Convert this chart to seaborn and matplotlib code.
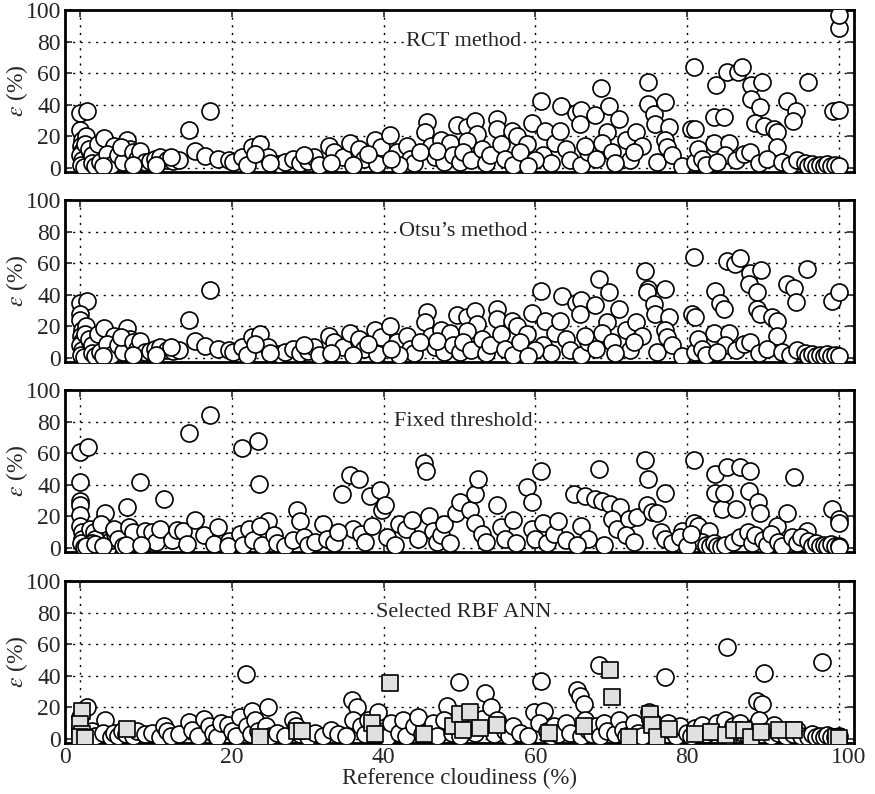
import pandas as pd
import numpy as np
import matplotlib
matplotlib.use("Agg")
import matplotlib.pyplot as plt
import matplotlib.transforms as mtransforms
import seaborn as sns

# (reference cloudiness %, error %)
rct_points = [
    (0.0, 35), (0.9, 36), (0.0, 24), (0.2, 18), (0.1, 14), (0.3, 11), (0.0, 8), (0.2, 5), (0.1, 2), (0.5, 0.5),
    (0.8, 20), (0.7, 15), (1.3, 10), (1.8, 5.7), (1.2, 12), (1.5, 8), (1.6, 3), (2.0, 1.5), (2.3, 15), (2.6, 4),
    (3.1, 19), (4.4, 14), (3.5, 9), (4.0, 2), (5.0, 8), (5.7, 3.6), (6.2, 18), (6.6, 12), (5.4, 13), (7.0, 10),
    (7.5, 6), (7.9, 11), (8.5, 4), (9.2, 4.6), (9.8, 6), (10.5, 6.7), (11.5, 5), (12.3, 4.6), (13.0, 5), (14.3, 24),
    (15.2, 11), (16.5, 7.8), (17.1, 36), (18.2, 5.7), (19.6, 5.3), (20.2, 4), (12.0, 7), (7.0, 2), (3.0, 1), (10.0, 2),
    (21.3, 6.7), (22.6, 13), (23.7, 15), (24.8, 6.7), (26.2, 2.5), (27.0, 4), (28.1, 5.7), (29.0, 3), (30.0, 4.5), (30.8, 6.7),
    (31.5, 2), (32.8, 14), (33.4, 10), (34.7, 6.7), (35.6, 16), (36.7, 12), (37.4, 5.7), (38.9, 18), (39.6, 13), (40.9, 21),
    (39.1, 2.5), (41.8, 10), (43.1, 14), (43.5, 5.7), (45.7, 29), (45.5, 22.5), (46.2, 14), (47.5, 18), (48.8, 16), (49.7, 27),
    (44.0, 3), (46.8, 7), (48.0, 4), (42.0, 2), (36.0, 2), (33.0, 3), (25.0, 3), (22.0, 2), (23.0, 9), (29.5, 8),
    (38.0, 9), (41.0, 6), (44.8, 10), (47.0, 11), (49.2, 8), (50.0, 4),
    (51.0, 26), (52.1, 30), (54.9, 31), (54.9, 25), (52.3, 21.5), (51.0, 17), (50.5, 10), (51.5, 5), (53.0, 12), (53.5, 3),
    (54.0, 8), (55.5, 15), (56.9, 23.6), (57.6, 20.4), (58.9, 15), (56.0, 6), (57.0, 2), (58.0, 10), (59.6, 28.5), (60.7, 42.5),
    (61.3, 23.6), (62.6, 16), (63.3, 23.6), (63.4, 39.4), (64.0, 12), (65.3, 35), (66.0, 36.7), (65.9, 28), (64.5, 5), (66.0, 2),
    (61.0, 8), (62.0, 3), (67.0, 10), (67.9, 33.5), (68.6, 50.4), (69.7, 39.4), (69.5, 22.5), (68.8, 16), (70.1, 10), (71.0, 31),
    (71.9, 18), (72.5, 5), (73.2, 22.5), (74.1, 14), (74.8, 54.6), (74.9, 40.4), (75.6, 34), (75.8, 28), (76.0, 3.6), (77.1, 41.5),
    (77.6, 25.7), (77.1, 18), (77.4, 13), (78.0, 8), (79.3, 1.5), (73.0, 10), (70.5, 3), (68.0, 6), (66.5, 14), (60.0, 5),
    (59.0, 1.5),
    (80.9, 64), (80.5, 25), (81.1, 24.6), (81.1, 3.6), (81.5, 12), (82.0, 6), (82.5, 2), (83.5, 15.8), (83.8, 52.5), (83.5, 32.5),
    (84.8, 32.5), (85.3, 61), (85.5, 16), (85.0, 8), (84.0, 4), (86.7, 61), (87.2, 64), (86.5, 5), (87.5, 9), (88.4, 52.5),
    (89.9, 54.5), (88.4, 43.7), (89.6, 38.5), (89.0, 28.8), (90.1, 26.7), (91.4, 25), (91.8, 22.5), (91.9, 13.5), (88.3, 10), (89.5, 3),
    (90.5, 6), (92.5, 4), (93.2, 42.5), (94.3, 36.3), (94.0, 30), (95.9, 54.5), (93.5, 2), (94.5, 5), (95.5, 3), (96.0, 1.5),
    (96.5, 2.5), (97.0, 1), (97.5, 2), (98.0, 1.5), (98.5, 2.5), (99.0, 1), (99.5, 2), (99.2, 36.3), (100.0, 37), (100.0, 88.8),
    (100.0, 97), (100.0, 1.5),
]

otsu_points = [
    (0.0, 35), (0.9, 36), (0.0, 28), (0.0, 24), (0.2, 18), (0.1, 14), (0.3, 11), (0.0, 8), (0.2, 5), (0.1, 2),
    (0.5, 0.5), (0.8, 20), (0.7, 15), (1.3, 10), (1.8, 5.7), (1.2, 12), (1.5, 8), (1.6, 3), (2.0, 1.5), (2.3, 15),
    (2.6, 4), (3.1, 19), (4.4, 14), (3.5, 9), (4.0, 2), (5.0, 8), (5.7, 3.6), (6.2, 19), (6.6, 12), (5.4, 13),
    (7.0, 10), (7.5, 6), (7.9, 11), (8.5, 4), (9.2, 4.6), (9.8, 6), (10.5, 6.7), (11.5, 5), (12.3, 4.6), (13.0, 5),
    (14.3, 24), (15.2, 11), (16.5, 7.8), (17.1, 43), (18.2, 5.7), (19.6, 5.3), (20.2, 4), (12.0, 7), (7.0, 2), (3.0, 1),
    (10.0, 2),
    (21.3, 6.7), (22.6, 13), (23.7, 15), (24.8, 6.7), (26.2, 2.5), (27.0, 4), (28.1, 5.7), (29.0, 3), (30.0, 4.5), (30.8, 6.7),
    (31.5, 2), (32.8, 14), (33.4, 10), (34.7, 6.7), (35.6, 16), (36.7, 12), (37.4, 5.7), (38.9, 18), (39.6, 13), (40.9, 20),
    (39.1, 2.5), (41.8, 10), (43.1, 14), (43.5, 5.7), (45.7, 29), (45.5, 22.5), (46.2, 14), (47.5, 18), (48.8, 16), (49.7, 27),
    (44.0, 3), (46.8, 7), (48.0, 4), (42.0, 2), (36.0, 2), (33.0, 3), (25.0, 3), (22.0, 2), (23.0, 9), (29.5, 8),
    (38.0, 9), (41.0, 6), (44.8, 10), (47.0, 11), (49.2, 8), (50.0, 4),
    (51.0, 26), (52.1, 30), (54.9, 31), (54.9, 25), (52.3, 21.5), (51.0, 17), (50.5, 10), (51.5, 5), (53.0, 12), (53.5, 3),
    (54.0, 8), (55.5, 15), (56.9, 23.6), (57.6, 20.4), (58.9, 15), (56.0, 6), (57.0, 2), (58.0, 10), (59.6, 28.5), (60.7, 42.5),
    (61.3, 23.6), (62.6, 16), (63.3, 23.6), (63.5, 39.4), (64.0, 12), (65.3, 35), (66.0, 36.7), (65.9, 28), (64.5, 5), (66.0, 2),
    (61.0, 8), (62.0, 3), (67.0, 10), (67.9, 33.5), (68.4, 50), (69.7, 41.5), (69.5, 22.5), (68.8, 16), (70.1, 10), (71.0, 31),
    (71.9, 18), (72.5, 5), (73.2, 22.5), (74.1, 14), (74.5, 55), (74.9, 43.6), (74.7, 41.5), (75.6, 34), (75.8, 28), (76.0, 3.6),
    (77.1, 43.6), (77.6, 25.7), (77.1, 18), (77.4, 13), (78.0, 8), (79.3, 1.5), (73.0, 10), (70.5, 3), (68.0, 6), (66.5, 14),
    (60.0, 5), (59.0, 1.5),
    (80.9, 64), (80.7, 27.8), (81.1, 25.7), (81.1, 3.6), (81.5, 12), (82.0, 6), (82.5, 2), (83.5, 15.8), (83.7, 42.5), (84.3, 35),
    (84.8, 31), (85.3, 61.5), (85.5, 16), (85.0, 8), (84.0, 4), (86.3, 59.4), (87.0, 63.6), (86.5, 5), (87.5, 9), (88.3, 54.1),
    (89.8, 55.8), (88.1, 46.7), (89.2, 41.5), (89.2, 31), (89.6, 27.8), (91.2, 25.7), (91.8, 23.6), (91.8, 14.1), (88.3, 10), (89.5, 3),
    (90.5, 6), (92.5, 4), (93.2, 47), (94.1, 44.6), (94.3, 35.2), (95.8, 56.6), (93.5, 2), (94.5, 5), (95.5, 3), (96.0, 1.5),
    (96.5, 2.5), (97.0, 1), (97.5, 2), (98.0, 1.5), (98.5, 2.5), (99.0, 1), (99.5, 2), (99.1, 36.2), (100.0, 41.5), (100.0, 1.5),
]

fixed_points = [
    (0.0, 61), (1.0, 64), (0.0, 42), (0.0, 30), (0.0, 27), (0.0, 21), (0.0, 14), (0.3, 10), (0.2, 6), (0.1, 3),
    (0.5, 0.5), (1.3, 12), (1.8, 10), (2.0, 6), (1.5, 3), (0.8, 1), (2.0, 2.7), (3.7, 0.5),
    (3.3, 22), (2.8, 15), (4.0, 5), (4.6, 9), (4.4, 12), (5.0, 6), (5.7, 1.4), (6.2, 26), (6.5, 13), (7.0, 10),
    (7.9, 42), (8.4, 2.7), (8.5, 11), (9.5, 10), (10.0, 4), (11.0, 31), (10.5, 12), (12.1, 5.3), (12.7, 11.6), (13.5, 11),
    (14.1, 2.7), (14.3, 73), (15.2, 18), (16.3, 8), (17.1, 84), (17.6, 2.7), (18.2, 13), (19.6, 4.6), (19.5, 1.5), (3.0, 1),
    (6.0, 2), (8.0, 2),
    (21.3, 63), (23.5, 67.5), (23.6, 40.7), (24.8, 17), (21.0, 9), (21.5, 2), (22.3, 12), (22.8, 5), (23.7, 14), (24.0, 2),
    (25.5, 8), (26.0, 3), (27.0, 1.5), (28.6, 24), (29.0, 17), (28.0, 5), (29.5, 7), (30.0, 2), (31.0, 4), (32.0, 15),
    (32.5, 6), (33.5, 3), (34.5, 34), (35.6, 46), (36.8, 44), (36.0, 12), (37.0, 9), (38.2, 33), (38.5, 14), (39.5, 37),
    (39.8, 24), (40.2, 27), (40.5, 7), (41.5, 2), (42.0, 15), (43.0, 12), (43.8, 18), (44.5, 6), (45.3, 54), (45.6, 49),
    (46.0, 20), (46.5, 11), (47.0, 4), (47.5, 8), (48.0, 15), (48.7, 3), (49.5, 22), (50.1, 29), (34.0, 10), (37.5, 4),
    (51.4, 24), (52.1, 34), (52.5, 44), (52.1, 16), (53.0, 9), (53.5, 4), (54.9, 27), (55.5, 13), (56.0, 6), (57.0, 18),
    (57.5, 3), (58.9, 38.5), (59.6, 29), (60.7, 49), (59.5, 12), (60.0, 6), (61.0, 16), (61.5, 3), (62.5, 9), (63.0, 17),
    (64.0, 5), (65.1, 34), (66.6, 33), (67.9, 31), (68.8, 30), (69.9, 28), (71.2, 26), (68.4, 50), (70.1, 18.5), (70.8, 12),
    (72.3, 18.5), (73.4, 19.6), (74.5, 56), (74.9, 44), (74.7, 27), (75.4, 23), (76.0, 22), (77.1, 35), (76.5, 10), (77.1, 6),
    (79.3, 11), (66.0, 14), (67.0, 6), (72.0, 8), (73.0, 4), (78.0, 3), (65.5, 2), (69.0, 2),
    (80.9, 56), (80.9, 16), (81.5, 14), (82.9, 11), (83.7, 47), (83.7, 35), (84.6, 25), (85.3, 51), (84.8, 35), (87.0, 51),
    (88.3, 49), (88.1, 36), (89.4, 29), (89.6, 22), (86.4, 25), (91.8, 14), (93.2, 22), (94.1, 45), (95.8, 11), (99.1, 25),
    (100.0, 18.5), (100.0, 16), (82.0, 4), (82.5, 2), (83.0, 1), (83.5, 3), (84.0, 1.5), (84.5, 0.5), (85.0, 2), (86.0, 4),
    (87.0, 7), (88.0, 10), (88.5, 3), (89.0, 8), (90.0, 5), (90.5, 2), (91.0, 9), (92.0, 4), (92.5, 1.5), (93.8, 7),
    (94.5, 3), (95.0, 7), (96.0, 4.6), (96.5, 1.5), (97.0, 3), (97.5, 1), (98.0, 2), (98.5, 1), (99.0, 2.5), (99.5, 1),
    (100.0, 1.5), (100.0, 0.5), (79.0, 7), (80.0, 1.5), (80.5, 9),
]

ann_points = [
    (0.9, 20.6), (0.0, 14), (0.0, 8), (0.0, 3), (0.5, 1), (1.5, 5), (2.0, 2), (3.3, 12), (3.0, 4), (4.0, 1.5),
    (4.5, 4), (5.0, 2), (5.5, 5), (6.0, 3), (7.0, 2), (7.5, 5), (8.5, 3), (9.5, 4), (10.5, 1.5), (11.0, 8),
    (11.5, 5), (12.0, 2), (13.0, 3), (14.3, 11), (14.8, 6), (15.5, 2), (16.3, 13), (17.0, 8), (17.5, 4), (18.0, 1.5),
    (18.5, 10), (19.5, 9), (20.0, 5), (20.5, 2), (21.1, 14), (21.8, 41), (22.6, 17.5), (22.0, 8), (22.5, 3), (23.0, 12),
    (23.5, 5), (24.8, 20.6), (24.5, 8), (25.0, 2), (26.0, 4), (27.0, 2), (28.1, 12), (28.5, 8), (29.0, 3), (30.0, 1.5),
    (31.0, 4), (32.0, 2), (33.0, 6), (34.0, 3), (35.0, 2), (35.8, 25), (36.5, 20.4), (36.0, 12), (37.0, 8), (37.5, 3),
    (38.0, 12), (39.3, 17), (40.0, 5), (40.5, 1.5), (41.0, 10), (42.0, 4), (42.5, 12), (43.0, 2), (44.0, 8), (44.5, 14),
    (45.0, 3), (46.0, 6), (46.5, 10), (47.0, 2), (48.4, 21), (48.0, 12), (49.0, 4), (49.9, 36), (50.0, 2), (51.0, 10),
    (52.0, 4), (53.4, 29), (53.0, 13), (54.1, 20), (54.5, 3), (55.0, 12), (56.0, 5), (56.5, 2), (57.0, 8), (58.0, 4),
    (59.0, 2), (59.8, 17), (60.7, 37), (61.1, 18), (60.5, 10), (61.5, 5), (62.0, 2), (62.5, 8), (63.0, 3), (64.0, 10),
    (64.5, 4), (65.5, 31), (65.9, 27), (66.4, 22), (66.0, 2), (66.5, 12), (67.0, 6), (67.5, 3), (68.4, 47), (68.0, 8),
    (68.5, 2), (69.0, 10), (69.5, 5), (70.5, 3), (71.0, 12), (71.5, 6), (72.0, 2), (73.0, 10), (73.5, 4), (74.0, 2),
    (75.0, 17), (75.5, 11), (76.0, 4), (77.1, 39), (77.5, 10), (78.0, 5), (78.5, 2), (79.0, 8), (80.0, 4), (80.5, 2),
    (81.0, 7), (82.0, 9), (82.5, 3), (83.0, 5), (84.0, 10), (84.5, 4), (85.3, 58), (85.0, 12), (85.5, 2), (86.0, 8),
    (86.5, 5), (87.0, 10), (87.5, 3), (88.0, 2), (88.5, 7), (89.2, 24), (89.9, 22), (89.5, 12), (90.2, 42), (90.5, 5),
    (91.0, 2), (91.5, 9), (92.0, 4), (93.0, 2), (93.5, 6), (94.0, 3), (94.5, 6), (95.0, 2), (96.0, 1.5), (96.5, 3),
    (97.0, 1), (97.8, 49), (97.5, 2), (98.0, 1), (98.5, 2.5), (99.0, 1.5), (99.5, 1), (100.0, 2),
]

ann_squares = [
    (0.2, 17.5), (0.0, 9.3), (0.2, 3), (0.0, 1), (0.6, 0.5), (6.2, 6.2), (23.7, 1.4), (28.6, 5.2), (29.2, 5), (38.5, 10),
    (38.9, 3), (40.8, 35.6), (45.3, 3), (49.1, 8), (50.1, 16), (51.4, 17.4), (50.5, 6), (52.7, 7), (55.0, 9), (61.8, 4),
    (66.4, 8), (69.8, 43.7), (70.1, 26.8), (72.3, 1), (75.1, 16), (75.4, 8.7), (76.0, 1.4), (77.6, 6.6), (81.1, 3.5), (83.1, 4.5),
    (85.1, 2.5), (86.2, 5.6), (87.5, 6), (88.4, 1.4), (89.7, 4.5), (92.1, 5.6), (94.1, 5.6), (99.6, 1.4), (100.0, 0.8),
]

panel_titles = ["RCT method", "Otsu\u2019s method", "Fixed threshold", "Selected RBF ANN"]
panel_points = [rct_points, otsu_points, fixed_points, ann_points]
tick_values = [0, 20, 40, 60, 80, 100]

sns.set_style("ticks")
plt.rcParams["font.family"] = ["Liberation Serif", "DejaVu Serif"]
plt.rcParams["mathtext.fontset"] = "stix"

fig = plt.figure(figsize=(8.75, 7.94), dpi=100)
bottoms = [0.7834, 0.5441, 0.3048, 0.0642]

for i in range(4):
    ax = fig.add_axes([0.0743, bottoms[i], 0.9017, 0.204])
    df = pd.DataFrame(panel_points[i], columns=["cloud", "err"])
    sns.scatterplot(x="cloud", y="err", data=df, ax=ax, marker="o", s=150,
                    facecolor="white", edgecolor="black", linewidth=1.2, zorder=3)
    if i == 3:
        sq = pd.DataFrame(ann_squares, columns=["cloud", "err"])
        sns.scatterplot(x="cloud", y="err", data=sq, ax=ax, marker="s", s=140,
                        facecolor="#e0e0e0", edgecolor="black", linewidth=1.2, zorder=4)
    ax.set_xlim(-2, 102)
    ax.set_ylim(-2.5, 100)
    ax.set_xticks(tick_values)
    ax.set_yticks(tick_values)
    ax.grid(True, color="black", linestyle=(0, (1.5, 4)), linewidth=1.0)
    ax.set_axisbelow(True)
    ax.tick_params(direction="in", top=True, right=True, length=5, width=1.2, labelsize=17, pad=3)
    for sp in ax.spines.values():
        sp.set_linewidth(2)
        sp.set_color("black")
    ax.set_ylabel(r"$\varepsilon$ (%)", fontsize=17)
    ax.yaxis.set_label_coords(-0.045, 0.5)
    if i < 3:
        ax.set_xlabel("")
        ax.set_xticklabels([])
    else:
        ax.set_xlabel("Reference cloudiness (%)", fontsize=16.5, labelpad=0)
        labels = ax.get_xticklabels()
        labels[0].set_transform(labels[0].get_transform() +
                                mtransforms.ScaledTranslation(-0.15, 0, fig.dpi_scale_trans))
        labels[-1].set_transform(labels[-1].get_transform() +
                                 mtransforms.ScaledTranslation(0.10, 0, fig.dpi_scale_trans))
    ax.text(50.5, 80, panel_titles[i], ha="center", va="center", fontsize=16, zorder=5,
            bbox=dict(facecolor="white", edgecolor="none", pad=1))

plt.savefig("out.png", dpi=100)
plt.close()
